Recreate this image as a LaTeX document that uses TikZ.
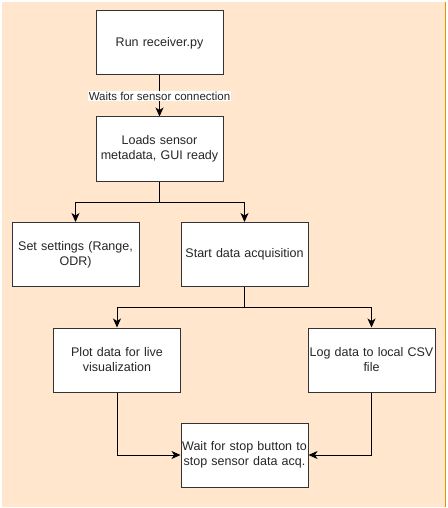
\documentclass[tikz,border=0pt]{standalone}
\usepackage{fontspec}
\setmainfont{Liberation Sans}
\usetikzlibrary{arrows.meta}
\definecolor{bgpeach}{HTML}{FFE6CC}
\definecolor{bgedge}{HTML}{D79B00}
\tikzset{
  stepbox/.style={draw=black!80, fill=white, line width=1pt,
    minimum width=127pt, minimum height=64pt, text width=126pt,
    align=center, inner sep=0pt, text=black!85,
    font=\fontsize{12.5}{15}\selectfont},
  flow/.style={draw=black, line width=1pt,
    -{Stealth[length=9pt,width=8pt,inset=2.5pt]}},
  waitlbl/.style={fill=white, inner sep=1pt, text=black!85,
    font=\fontsize{11.5}{13}\selectfont}
}
\begin{document}
\begin{tikzpicture}[x=1pt,y=-1pt]
\useasboundingbox (0,0) rectangle (447,508);
\fill[bgpeach] (2,2) rectangle (445,507);
\draw[bgedge, line width=1pt] (445,2) -- (445,507);
%
\node[stepbox] (run) at (159.5,43) {Run receiver.py};
\node[stepbox] (load) at (159.5,149) {Loads sensor\\metadata, GUI ready};
\node[stepbox] (settings) at (75.5,254.5) {Set settings (Range,\\ODR)};
\node[stepbox] (start) at (244.5,254.5) {Start data acquisition};
\node[stepbox] (plot) at (117,360) {Plot data for live\\visualization};
\node[stepbox] (log) at (371.5,360) {Log data to local CSV\\file};
\node[stepbox] (wait) at (244.5,455) {Wait for stop button to\\stop sensor data acq.};
\coordinate (split1) at (159.5,202);
\coordinate (split2) at (244.5,307);
%
\draw[flow] (run) -- node[waitlbl] {Waits for sensor connection} (load);
\draw[flow] (load) -- (split1) -| (settings);
\draw[flow] (split1) -| (start);
\draw[flow] (start) -- (split2) -| (plot);
\draw[flow] (split2) -| (log);
\draw[flow] (plot) |- (wait);
\draw[flow] (log) |- (wait);
\end{tikzpicture}
\end{document}
